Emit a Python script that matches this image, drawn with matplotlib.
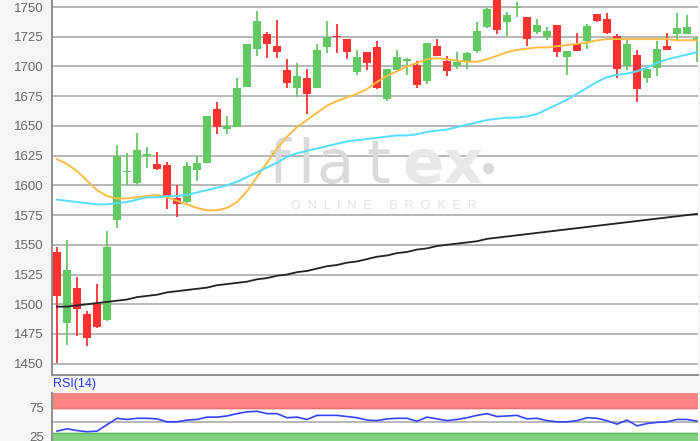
import numpy as np
import matplotlib.pyplot as plt

# --- Datos -----------------------------------------------------------------------------
opens  = [1544, 1484, 1514, 1492, 1500, 1487, 1571, 1611, 1602, 1625, 1618, 1617, 1589, 1586, 1613, 1619,
          1664, 1647, 1649, 1683, 1715, 1727, 1717, 1697, 1682, 1690, 1682, 1716, 1726, 1723, 1695, 1712,
          1716, 1673, 1697, 1705, 1701, 1688, 1717, 1705, 1700, 1704, 1713, 1733, 1760, 1737, 1749, 1742,
          1729, 1725, 1735, 1708, 1719, 1721, 1744, 1740, 1726, 1700, 1710, 1690, 1699, 1717, 1727, 1727, 1722]
highs  = [1548, 1554, 1523, 1494, 1517, 1562, 1634, 1627, 1644, 1632, 1628, 1620, 1600, 1620, 1625, 1658,
          1670, 1658, 1690, 1719, 1747, 1729, 1739, 1706, 1703, 1698, 1719, 1738, 1736, 1723, 1714, 1712,
          1721, 1698, 1714, 1707, 1705, 1720, 1723, 1709, 1712, 1712, 1737, 1749, 1765, 1746, 1754, 1742,
          1740, 1733, 1735, 1713, 1728, 1736, 1744, 1745, 1727, 1723, 1714, 1698, 1721, 1728, 1745, 1743, 1725]
lows   = [1451, 1466, 1473, 1465, 1480, 1486, 1564, 1600, 1600, 1615, 1613, 1580, 1573, 1585, 1604, 1619,
          1643, 1643, 1649, 1683, 1709, 1707, 1707, 1682, 1674, 1660, 1682, 1711, 1711, 1706, 1693, 1697,
          1681, 1671, 1697, 1693, 1682, 1685, 1709, 1692, 1698, 1698, 1711, 1732, 1727, 1726, 1742, 1717,
          1727, 1722, 1708, 1693, 1713, 1715, 1737, 1727, 1690, 1697, 1670, 1686, 1692, 1714, 1722, 1727, 1704]
closes = [1507, 1529, 1496, 1472, 1481, 1548, 1625, 1612, 1630, 1626, 1614, 1591, 1584, 1616, 1619, 1658,
          1649, 1650, 1682, 1719, 1738, 1719, 1712, 1686, 1692, 1677, 1714, 1725, 1725, 1712, 1708, 1703,
          1682, 1698, 1708, 1706, 1684, 1720, 1709, 1696, 1704, 1711, 1730, 1748, 1731, 1743, 1750, 1723,
          1735, 1730, 1712, 1713, 1713, 1734, 1738, 1728, 1698, 1719, 1681, 1698, 1715, 1714, 1732, 1733, 1724]

ma_orange = [1622, 1618, 1612, 1604, 1596, 1591, 1589, 1589, 1590, 1591, 1592, 1590, 1587, 1584, 1581, 1579,
             1579, 1581, 1586, 1595, 1607, 1619, 1631, 1641, 1649, 1655, 1661, 1667, 1671, 1674, 1677, 1681,
             1687, 1692, 1696, 1700, 1703, 1706, 1707, 1706, 1705, 1704, 1704, 1706, 1709, 1712, 1714, 1715,
             1716, 1716, 1717, 1718, 1719, 1720, 1722, 1723, 1723, 1723, 1723, 1723, 1723, 1723, 1722, 1722, 1722]
ma_cyan   = [1588, 1587, 1586, 1585, 1584, 1584, 1585, 1586, 1588, 1590, 1590, 1591, 1591, 1592, 1594, 1596,
             1598, 1600, 1603, 1607, 1611, 1615, 1619, 1624, 1627, 1629, 1631, 1633, 1635, 1637, 1638, 1639,
             1640, 1641, 1642, 1642, 1643, 1645, 1646, 1647, 1649, 1651, 1653, 1655, 1656, 1657, 1657, 1658,
             1660, 1664, 1668, 1672, 1677, 1682, 1687, 1691, 1693, 1694, 1696, 1699, 1703, 1706, 1708, 1710, 1712]
ma_black  = [1498, 1498, 1499, 1500, 1501, 1502, 1503, 1504, 1506, 1507, 1508, 1510, 1511, 1512, 1513, 1514,
             1516, 1517, 1518, 1519, 1521, 1522, 1524, 1525, 1527, 1528, 1530, 1532, 1533, 1535, 1536, 1538,
             1540, 1541, 1543, 1544, 1546, 1547, 1549, 1550, 1551, 1552, 1553, 1555, 1556, 1557, 1558, 1559,
             1560, 1561, 1562, 1563, 1564, 1565, 1566, 1567, 1568, 1569, 1570, 1571, 1572, 1573, 1574, 1575, 1576]
rsi = [34, 38, 35, 33, 34, 45, 56, 54, 56, 56, 55, 50, 50, 53, 54, 58,
       58, 60, 64, 67, 68, 64, 64, 57, 58, 54, 61, 61, 61, 59, 57, 53,
       52, 55, 56, 56, 51, 58, 55, 52, 54, 57, 61, 64, 59, 60, 61, 55,
       56, 52, 50, 50, 52, 57, 56, 52, 46, 53, 43, 47, 49, 50, 54, 54, 51]

price_ticks = [1450, 1475, 1500, 1525, 1550, 1575, 1600, 1625, 1650, 1675, 1700, 1725, 1750]
rsi_ticks = [25, 75]

GREEN = '#62c962'
RED = '#ff3030'
GRID = '#aaaaaa'
TXT = '#666666'

plt.rcParams['font.family'] = ['Liberation Sans', 'DejaVu Sans']

fig = plt.figure(figsize=(7, 4.41), dpi=100, facecolor='#f5f5f5')

# --- Panel principal -------------------------------------------------------------------
ax = fig.add_axes([52/700, 1 - 375/441, 646/700, 375/441])
x = np.arange(len(opens))
o = np.array(opens); c = np.array(closes)
up = c >= o
cols = np.where(up, GREEN, RED)
ax.vlines(x, lows, highs, colors=cols, lw=1.3, zorder=3)
ax.bar(x, np.maximum(np.abs(c - o), 1.0), bottom=np.minimum(o, c), width=0.8, color=cols, zorder=4)

ax.plot(x, ma_orange, color='#ffbb44', lw=1.4, zorder=5)
ax.plot(x, ma_cyan, color='#55dcff', lw=1.4, zorder=5)
ax.plot(x, ma_black, color='#222222', lw=1.3, zorder=5)

ax.set_xlim(-0.5, 64.1)
ax.set_ylim(1440.5, 1755.9)
ax.set_yticks(price_ticks)
ax.set_xticks([])
ax.grid(axis='y', color=GRID, lw=1.2)
ax.set_axisbelow(True)
ax.tick_params(axis='y', length=0, pad=6, labelsize=9.5, labelcolor=TXT)
for s in ['top', 'right']:
    ax.spines[s].set_visible(False)
for s in ['left', 'bottom']:
    ax.spines[s].set_color('#888888')
    ax.spines[s].set_linewidth(1.3)

# Marca de agua (posiciones en pixeles del grafico -> fraccion del eje)
def fx(px):
    return (px - 52) / 646

def fy(py):
    return (375 - py) / 375

for ch, px in [('f', 279), ('l', 306), ('a', 335), ('t', 378)]:
    ax.text(fx(px), fy(183), ch, transform=ax.transAxes, ha='center', va='baseline',
            fontsize=44, color='#dadada', family='DejaVu Sans', zorder=1)
ax.text(fx(443), fy(183), 'ex', transform=ax.transAxes, ha='center', va='baseline',
        fontsize=44, color='#e8e8e8', family='DejaVu Sans', weight='bold', zorder=1)
ax.plot([fx(488)], [fy(168)], 'o', color='#dadada', ms=7, transform=ax.transAxes, zorder=1)
ax.text(fx(384), fy(206), 'O  N  L  I  N  E     B  R  O  K  E  R', transform=ax.transAxes,
        ha='center', va='center', fontsize=9, color='#e2e2e2', zorder=1)

# --- Panel RSI -------------------------------------------------------------------------
axr = fig.add_axes([52/700, 1 - 451/441, 646/700, 58.4/441])
axr.axhspan(73, 100, color='#ff8585', zorder=1)
axr.axhline(73, color='#e57373', lw=1, zorder=1)
axr.axhspan(0, 30, color='#7fd07f', zorder=1)
axr.axhline(30, color='#5fb85f', lw=1, zorder=1)
axr.axhline(50, color=GRID, lw=1.2, zorder=1)
axr.plot(x, rsi, color='#3344ff', lw=1.2, zorder=3)
axr.set_xlim(-0.5, 64.1)
axr.set_ylim(0, 100)
axr.set_yticks(rsi_ticks)
axr.set_xticks([])
axr.tick_params(axis='y', length=0, pad=6, labelsize=9.5, labelcolor=TXT)
for s in ['top', 'right']:
    axr.spines[s].set_visible(False)
axr.spines['left'].set_color('#888888')
axr.spines['left'].set_linewidth(1.3)
fig.text(53/700, 1 - 384/441, 'RSI(14)', color='#2233ff', fontsize=9, va='center', ha='left')

fig.savefig('out.png', dpi=100, facecolor=fig.get_facecolor())
